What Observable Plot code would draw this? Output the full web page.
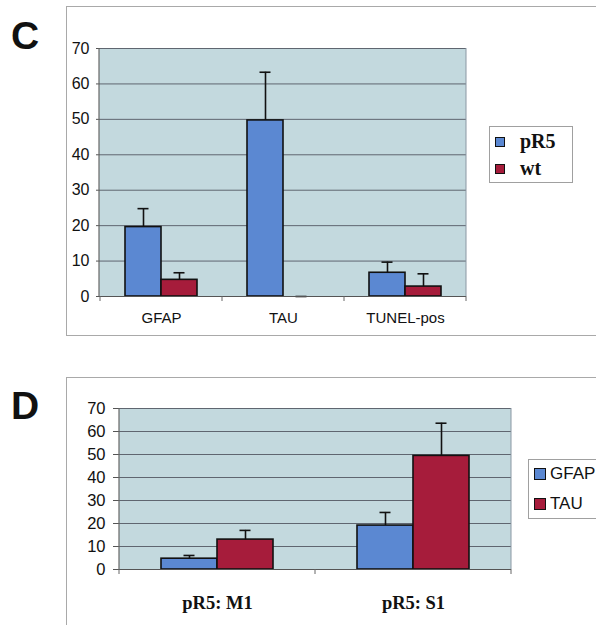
<!DOCTYPE html>
<html>
<head>
<meta charset="utf-8">
<script src="https://cdn.jsdelivr.net/npm/d3@7"></script>
<script src="https://cdn.jsdelivr.net/npm/@observablehq/plot@0.6"></script>
<style>
  html, body { margin: 0; padding: 0; background: #fff; }
  #root { position: relative; width: 596px; height: 625px; overflow: hidden; font-family: "Liberation Sans", Arial, sans-serif; }
  .panel-letter { position: absolute; font-weight: bold; font-size: 39px; line-height: 1; color: #111; }
  .frame { position: absolute; border: 1px solid #a9a9a9; }
  .chart { position: absolute; left: 0; }
  .legend { position: absolute; background: #fff; border: 1px solid #a0a0a0; }
  .legend .item { position: absolute; display: flex; align-items: center; white-space: nowrap; }
  .legend .sw { display: inline-block; border: 1.5px solid #111; box-sizing: border-box; }
</style>
</head>
<body>
<div id="root">
  <div class="frame" style="left:66px; top:6px; width:560px; height:328px;"></div>
  <div class="frame" style="left:66px; top:377px; width:560px; height:300px;"></div>
  <div class="panel-letter" style="left:11px; top:16px;">C</div>
  <div class="panel-letter" style="left:11px; top:386px;">D</div>
  <div id="chartC" class="chart" style="top:0px;"></div>
  <div id="chartD" class="chart" style="top:340px;"></div>
  <div id="legendC" class="legend" style="left:489px; top:126px; width:82px; height:55px;"></div>
  <div id="legendD" class="legend" style="left:528px; top:459px; width:90px; height:58px;"></div>
</div>
<script>
// ---------- Data: panel C ----------
const categoriesC = ["GFAP", "TAU", "TUNEL-pos"];
const seriesC = ["pR5", "wt"];
const pR5MeanC = [19.6, 49.7, 6.7];
const pR5ErrC  = [5.2, 13.6, 3.0];
const wtMeanC  = [4.7, 0, 2.8];
const wtErrC   = [2.0, 0, 3.6];

// ---------- Data: panel D ----------
const categoriesD = ["pR5: M1", "pR5: S1"];
const seriesD = ["GFAP", "TAU"];
const gfapMeanD = [4.7, 19.1];
const gfapErrD  = [1.4, 5.7];
const tauMeanD  = [13.0, 49.4];
const tauErrD   = [4.0, 14.2];

// ---------- Axis ticks ----------
const yTicks = [0, 10, 20, 30, 40, 50, 60, 70];

// ---------- Styles ----------
const BLUE = "#5b88d2";
const RED = "#a61c3b";
const PLOT_BG = "#c3d9de";
const GRID = "#5f6670";

const dataC = categoriesC.flatMap((c, i) => [
  {cat: c, series: seriesC[0], value: pR5MeanC[i], err: pR5ErrC[i]},
  {cat: c, series: seriesC[1], value: wtMeanC[i], err: wtErrC[i]}
]);
const dataD = categoriesD.flatMap((c, i) => [
  {cat: c, series: seriesD[0], value: gfapMeanD[i], err: gfapErrD[i]},
  {cat: c, series: seriesD[1], value: tauMeanD[i], err: tauErrD[i]}
]);

function groupedBarChart({data, cats, series, height, margins, padOuter, capInset,
                          yFont, yTickSize, yTickPad, xFont, xFontFamily, xFontWeight, xTickPad}) {
  const chart = Plot.plot({
    width: 596,
    height,
    marginTop: margins.top,
    marginBottom: margins.bottom,
    marginLeft: margins.left,
    marginRight: margins.right,
    style: {fontFamily: "'Liberation Sans', Arial, sans-serif", color: "#111", background: "transparent", overflow: "visible"},
    fx: {domain: cats, padding: 0, label: null},
    x: {domain: series, paddingInner: 0, paddingOuter: padOuter, axis: null},
    y: {domain: [0, 70], label: null, axis: null},
    color: {domain: series, range: [BLUE, RED]},
    marks: [
      Plot.gridY(yTicks, {stroke: GRID, strokeOpacity: 1, strokeWidth: 1}),
      Plot.barY(data, {fx: "cat", x: "series", y: "value", fill: "series", stroke: "#111", strokeWidth: 1.6}),
      Plot.ruleX(data, {fx: "cat", x: "series", y1: "value", y2: d => d.value + d.err, stroke: "#111", strokeWidth: 1.6}),
      Plot.tickY(data, {fx: "cat", x: "series", y: d => d.value + d.err, stroke: "#111", strokeWidth: 1.6,
                        insetLeft: capInset, insetRight: capInset}),
      Plot.ruleY([0], {stroke: "#555", strokeWidth: 1.2}),
      Plot.axisY(yTicks, {anchor: "left", tickSize: yTickSize, tickPadding: yTickPad, fontSize: yFont,
                          stroke: "#555", label: null}),
      Plot.axisFx({anchor: "bottom", tickSize: 0, tickPadding: xTickPad, fontSize: xFont,
                   fontFamily: xFontFamily, fontWeight: xFontWeight, label: null})
    ]
  });

  // Plot-area background, axis line, right border and category-boundary ticks,
  // placed with the chart's own scales
  const fx = chart.scale("fx");
  const y = chart.scale("y");
  const [xl, xr] = fx.range;
  const y0 = y.apply(0), yTop = y.apply(70);
  const svg = d3.select(chart);
  svg.insert("rect", "g")
    .attr("x", xl).attr("y", yTop).attr("width", xr - xl).attr("height", y0 - yTop)
    .attr("fill", PLOT_BG);
  const g = svg.append("g").attr("fill", "none");
  g.append("line").attr("x1", xl).attr("x2", xl).attr("y1", yTop).attr("y2", y0)
    .attr("stroke", "#666").attr("stroke-width", 1.2);
  g.append("line").attr("x1", xr).attr("x2", xr).attr("y1", yTop).attr("y2", y0)
    .attr("stroke", "#8a97a3").attr("stroke-width", 1);
  const bounds = cats.map(c => fx.apply(c)).concat([xr]);
  g.selectAll("line.bt").data(bounds).join("line").attr("class", "bt")
    .attr("x1", d => d).attr("x2", d => d).attr("y1", y0).attr("y2", y0 + 5)
    .attr("stroke", "#666").attr("stroke-width", 1);
  return chart;
}

document.getElementById("chartC").append(groupedBarChart({
  data: dataC, cats: categoriesC, series: seriesC, height: 340,
  margins: {top: 48, bottom: 44, left: 99, right: 130},
  padOuter: 0.69, capInset: 12.5,
  yFont: 16, yTickSize: 4, yTickPad: 7,
  xFont: 15, xFontFamily: "'Liberation Sans', Arial, sans-serif", xFontWeight: "normal", xTickPad: 16
}));

document.getElementById("chartD").append(groupedBarChart({
  data: dataD, cats: categoriesD, series: seriesD, height: 285,
  margins: {top: 68, bottom: 56, left: 119, right: 85},
  padOuter: 0.72, capInset: 22.5,
  yFont: 16.5, yTickSize: 6, yTickPad: 8,
  xFont: 18.5, xFontFamily: "'Liberation Serif', 'Times New Roman', serif", xFontWeight: "bold", xTickPad: 26
}));

// ---------- Legends ----------
function buildLegend(el, labels, colors, opts) {
  labels.forEach((lab, i) => {
    const item = document.createElement("div");
    item.className = "item";
    item.style.left = opts.left + "px";
    item.style.top = (opts.top + i * opts.step) + "px";
    const sw = document.createElement("span");
    sw.className = "sw";
    sw.style.width = opts.sw + "px";
    sw.style.height = opts.sw + "px";
    sw.style.background = colors[i];
    sw.style.marginRight = opts.gap + "px";
    const t = document.createElement("span");
    t.textContent = lab;
    t.style.font = opts.font;
    t.style.color = "#111";
    item.append(sw, t);
    el.append(item);
  });
}
buildLegend(document.getElementById("legendC"), seriesC, [BLUE, RED],
  {left: 5, top: 3, step: 27, sw: 10, gap: 15, font: "bold 20px 'Liberation Serif', 'Times New Roman', serif"});
buildLegend(document.getElementById("legendD"), seriesD, [BLUE, RED],
  {left: 5, top: 4, step: 30, sw: 12, gap: 4, font: "17px 'Liberation Sans', Arial, sans-serif"});
</script>
</body>
</html>
